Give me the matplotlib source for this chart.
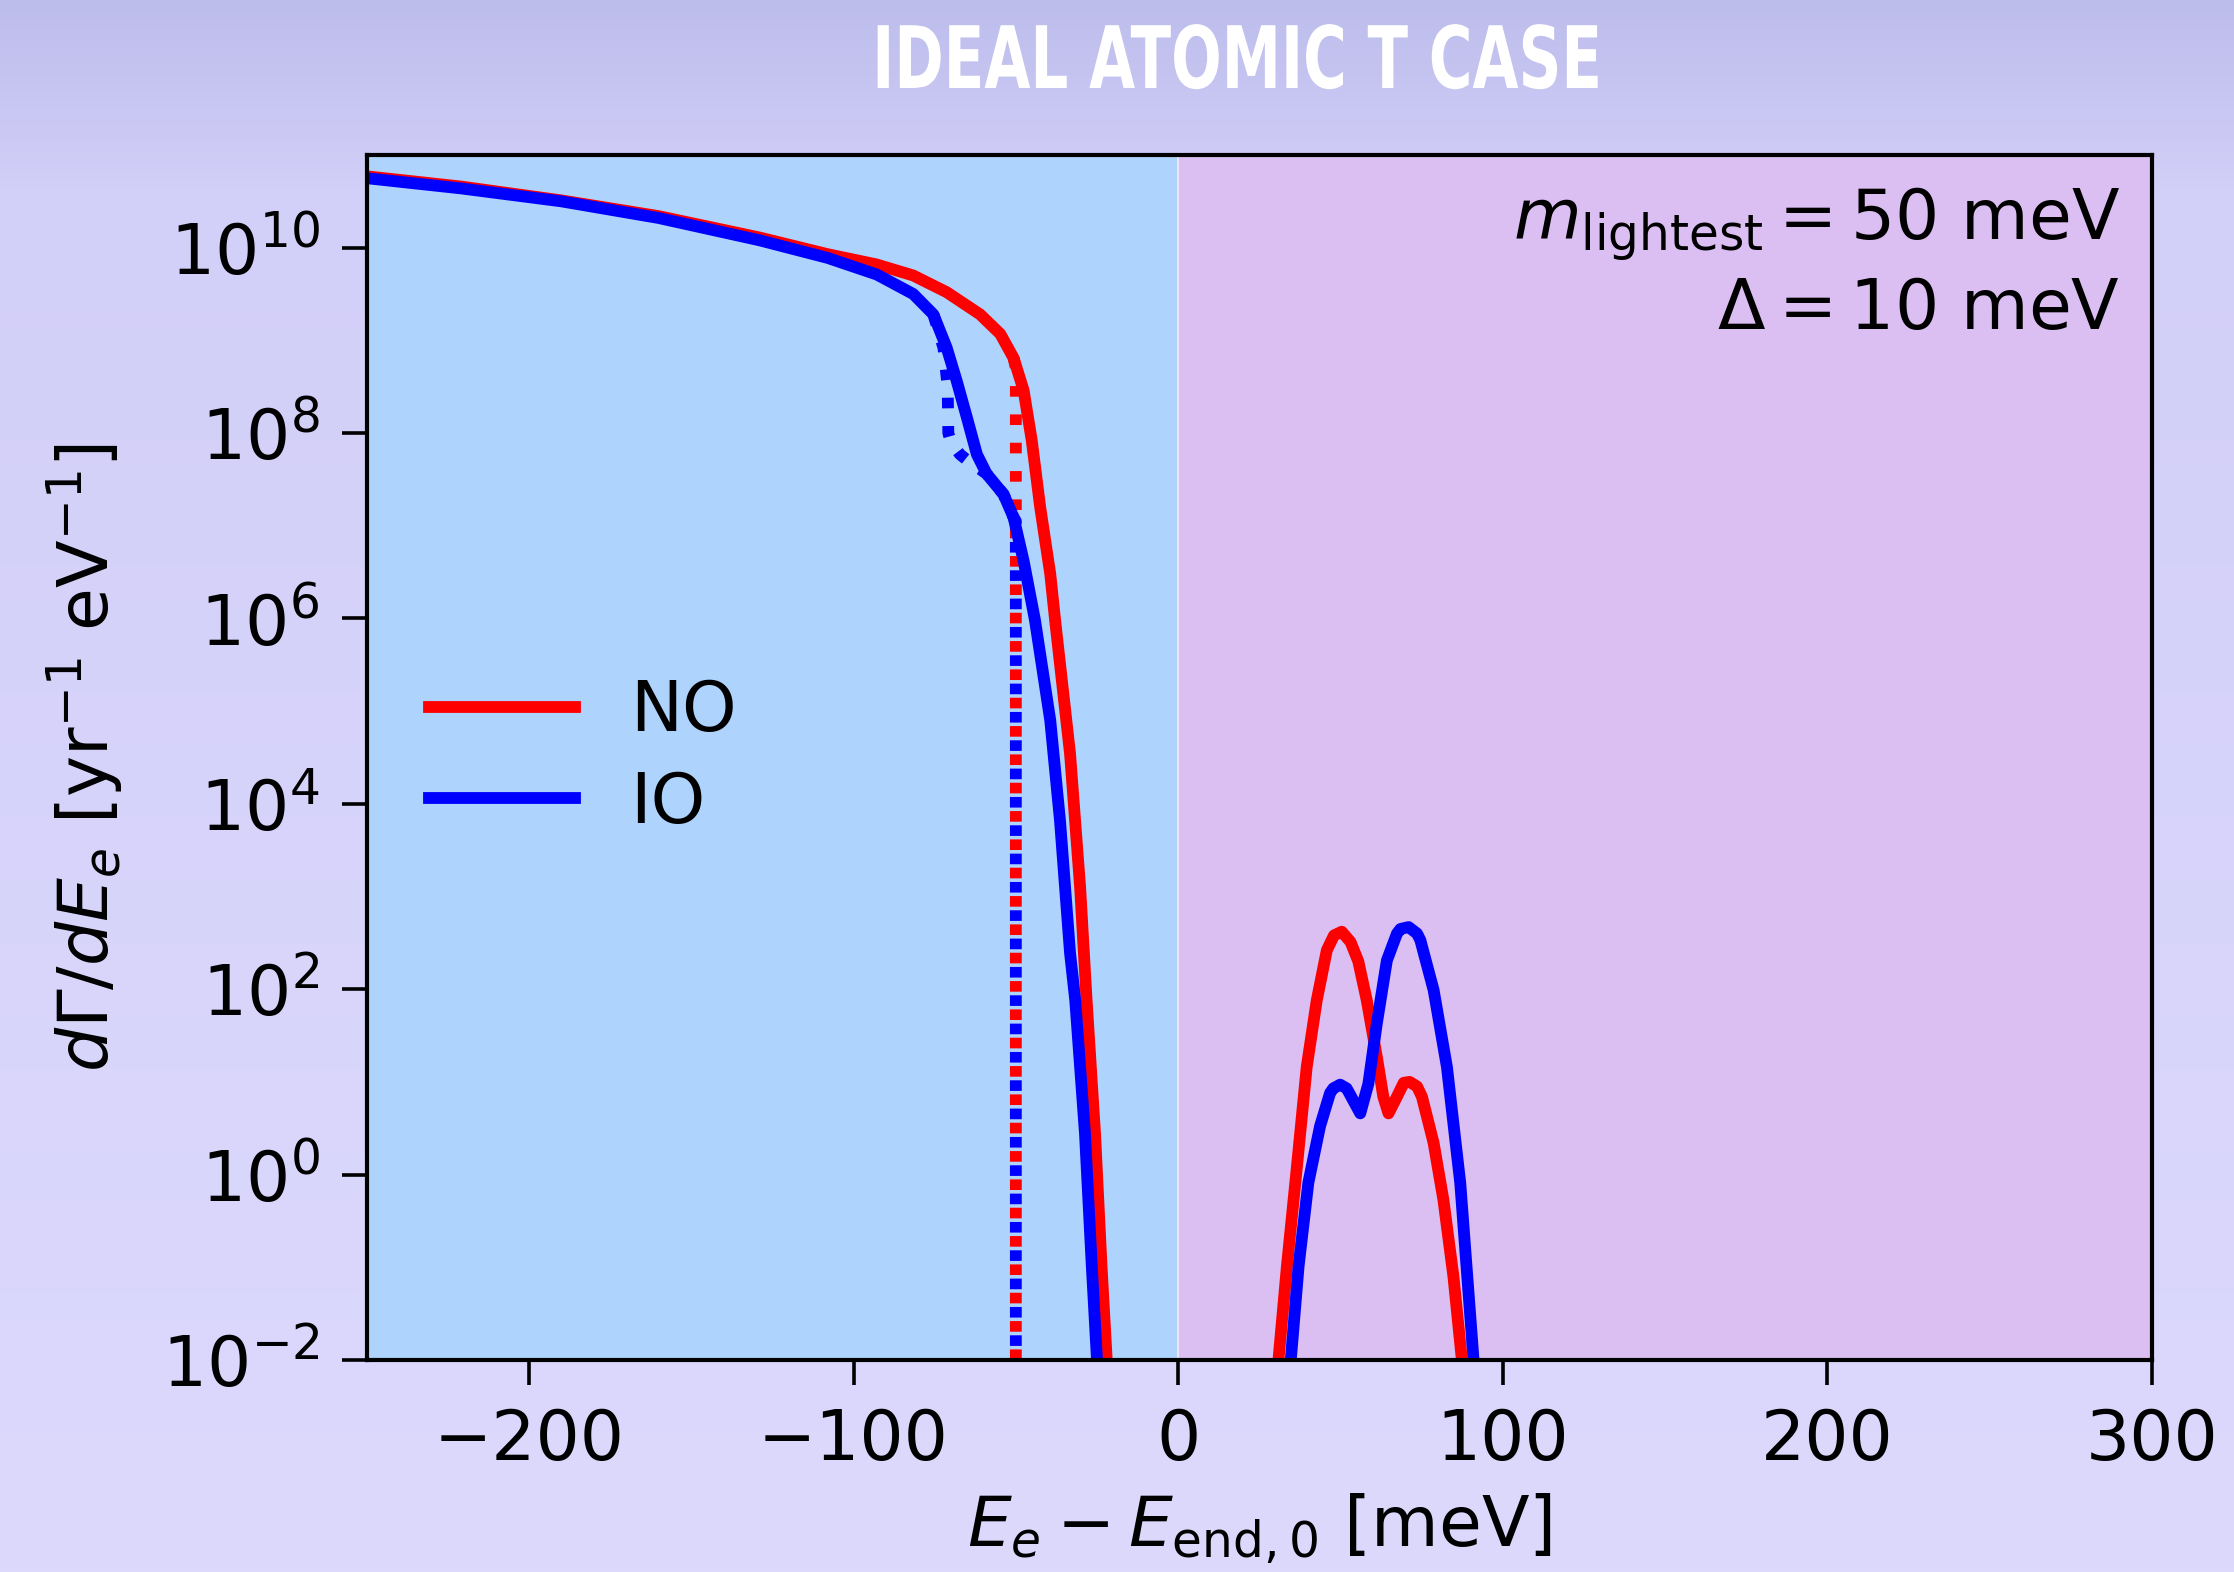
import numpy as np
import matplotlib
matplotlib.use("Agg")
import matplotlib.pyplot as plt
from matplotlib import patheffects, font_manager
from matplotlib.transforms import Affine2D
from matplotlib.ticker import NullLocator

# ---- data (x in meV, y as log10 of the rate) ----
no_x = [-250, -221, -190, -160, -129, -108, -93, -81.6, -71.3, -61.0, -54.8,
        -50.7, -47.6, -45.1, -42.5, -39.4, -37.9, -33.3, -30.2, -28.2, -25.6,
        -23.6, -22.0]
no_log = [10.77, 10.66, 10.51, 10.34, 10.11, 9.93, 9.82, 9.70, 9.52, 9.28, 9.07,
          8.81, 8.46, 7.92, 7.20, 6.48, 5.98, 4.54, 3.10, 1.88, 0.44,
          -0.99, -2.0]

io_x = [-250, -221, -190, -160, -129, -108, -92.8, -81.6, -75.4, -71.3, -68.2,
        -65.1, -62.0, -59.0, -53.8, -50.7, -47.6, -44.1, -39.4, -36.4, -33.3,
        -31.7, -28.7, -26.6, -25.0]
io_log = [10.75, 10.64, 10.50, 10.32, 10.08, 9.89, 9.71, 9.50, 9.28, 8.92, 8.56,
          8.17, 7.77, 7.56, 7.34, 7.09, 6.62, 5.98, 4.90, 3.82, 2.39,
          1.88, 0.44, -0.99, -2.0]

# un-smeared spectra (dotted), only where they leave the solid curves
no_dot_x = [-50.7, -50.0, -50.0]
no_dot_log = [8.81, 8.70, -2.5]
io_dot_x = [-75.4, -72.3, -71.0, -70.8, -70.0, -67.2, -64.0, -61.0, -59.0,
            -53.8, -50.7, -50.0, -50.0]
io_dot_log = [9.28, 8.92, 8.50, 8.00, 7.90, 7.77, 7.68, 7.61, 7.56,
              7.34, 7.09, 7.05, -2.5]

# capture peaks above the endpoint
no_peak_x = [30.9, 33.5, 36.6, 39.6, 42.7, 45.8, 48.0, 50.4, 53.1, 55.5, 58.1,
             61.2, 63.2, 64.8, 67.4, 69.5, 71.3, 73.6, 75.1, 78.7, 81.7, 84.8,
             87.4]
no_peak_log = [-2.0, -0.99, 0.09, 1.16, 1.88, 2.42, 2.58, 2.62, 2.51, 2.30, 1.88,
               1.27, 0.84, 0.66, 0.84, 0.99, 1.00, 0.95, 0.84, 0.34, -0.27, -1.10,
               -2.0]
io_peak_x = [34.7, 37.1, 40.1, 43.7, 46.8, 47.8, 49.9, 51.9, 53.0, 56.1, 58.6,
             61.2, 64.3, 67.4, 68.5, 71.0, 73.6, 74.6, 78.7, 82.8, 86.9, 91.0]
io_peak_log = [-2.0, -0.99, -0.09, 0.52, 0.88, 0.93, 0.97, 0.93, 0.86, 0.66, 0.98,
               1.63, 2.31, 2.60, 2.65, 2.67, 2.60, 2.53, 1.99, 1.16, -0.09, -2.0]

x_ticks = [-200, -100, 0, 100, 200, 300]
y_ticks = [1e-2, 1e0, 1e2, 1e4, 1e6, 1e8, 1e10]

title = "IDEAL ATOMIC T CASE"
note = r"$m_{\rm lightest} = 50$ meV" + "\n" + r"$\Delta = 10$ meV"

# ---- figure ----
fig = plt.figure(figsize=(22.34, 15.72), dpi=100)

# background gradient of the slide
bg = fig.add_axes([0, 0, 1, 1], zorder=-1)
bg.axis("off")
stops = np.array([0.0, 0.12, 1.0])
cols = np.array([[189, 189, 236], [210, 207, 248], [221, 217, 253]]) / 255.0
t = np.linspace(0, 1, 400)
grad = np.stack([np.interp(t, stops, cols[:, k]) for k in range(3)], axis=-1)
bg.imshow(grad[:, None, :], aspect="auto", extent=[0, 1, 0, 1])

ax = fig.add_axes([0.1641, 0.1349, 0.7992, 0.7665])
ax.set_facecolor("none")
ax.axvspan(-250, 0, color="#aed4fd", lw=0, zorder=0)
ax.axvspan(0, 300, color="#dbbff2", lw=0, zorder=0)
ax.axvline(0, color="white", lw=1.2, alpha=0.7, zorder=0.5)

lw = 8.5
dots = (0, (0.9, 1.5))
ax.plot(no_dot_x, 10 ** np.array(no_dot_log), color="red", lw=lw, ls=dots)
ax.plot(io_dot_x, 10 ** np.array(io_dot_log), color="blue", lw=lw, ls=dots)
ax.plot(no_x, 10 ** np.array(no_log), color="red", lw=lw, label="NO",
        solid_joinstyle="round")
ax.plot(io_x, 10 ** np.array(io_log), color="blue", lw=lw, label="IO",
        solid_joinstyle="round")
ax.plot(no_peak_x, 10 ** np.array(no_peak_log), color="red", lw=lw,
        solid_joinstyle="round")
ax.plot(io_peak_x, 10 ** np.array(io_peak_log), color="blue", lw=lw,
        solid_joinstyle="round")

ax.set_yscale("log")
ax.set_xlim(-250, 300)
ax.set_ylim(1e-2, 1e11)
ax.set_xticks(x_ticks)
ax.set_yticks(y_ticks)
ax.yaxis.set_minor_locator(NullLocator())
ax.tick_params(labelsize=50, length=18, width=2.6, pad=16)
for s in ax.spines.values():
    s.set_linewidth(3.0)

ax.set_xlabel(r"$E_e - E_{\rm end,0}$ [meV]", fontsize=50, labelpad=12)
ax.set_ylabel(r"$d\Gamma/dE_e$ [yr$^{-1}$ eV$^{-1}$]", fontsize=50, labelpad=26)

ax.text(0.982, 0.975, note, transform=ax.transAxes, ha="right", va="top",
        fontsize=50, multialignment="right", linespacing=1.25)

ax.legend(loc="center left", fontsize=50, frameon=False, handlelength=2.1,
          handletextpad=0.8, labelspacing=0.35)

# condensed white title
class Squeeze(patheffects.AbstractPathEffect):
    def __init__(self, sx):
        super().__init__()
        self.sx = sx

    def draw_path(self, renderer, gc, tpath, affine, rgbFace=None):
        ext = tpath.get_extents()
        cx = (ext.x0 + ext.x1) / 2
        sq = Affine2D().translate(-cx, 0).scale(self.sx, 1).translate(cx, 0)
        renderer.draw_path(gc, tpath, sq + affine, rgbFace)

names = {f.name for f in font_manager.fontManager.ttflist}
tfont = "Liberation Sans Narrow" if "Liberation Sans Narrow" in names else "DejaVu Sans"
ttl = fig.text(0.5537, 1 - 88 / 1572, title, ha="center", va="baseline",
               color="white", fontsize=62, fontweight="bold", family=tfont)
fig.canvas.draw()
w = ttl.get_window_extent().width
ttl.set_path_effects([Squeeze(730.0 / w)])

fig.savefig("out.png", dpi=100)
